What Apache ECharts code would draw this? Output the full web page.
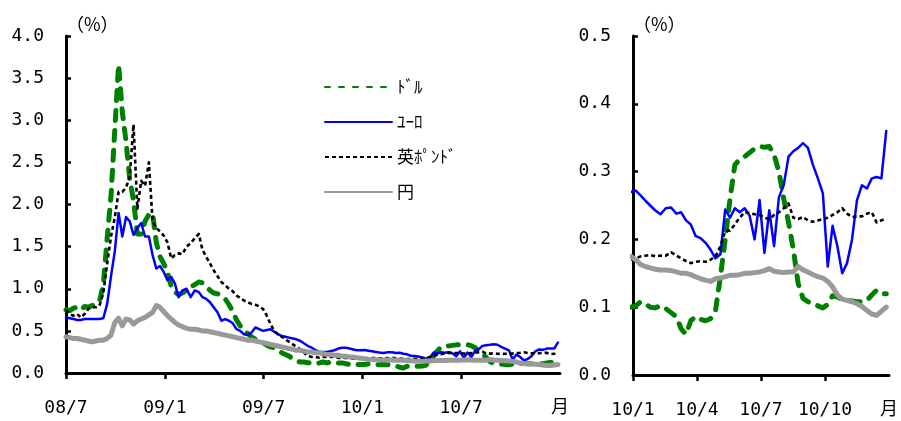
<!DOCTYPE html>
<html>
<head>
<meta charset="utf-8">
<script src="https://cdn.jsdelivr.net/npm/echarts@6/dist/echarts.min.js"></script>
<style>
  html, body { margin: 0; padding: 0; background: #fff; }
  #chart { width: 901px; height: 421px; }
</style>
</head>
<body>
<div id="chart"></div>
<script>
// Weekly observations; week 0 starts on 2008-07-01.
const seriesNames = ['ﾄﾞﾙ', 'ﾕｰﾛ', '英ﾎﾟﾝﾄﾞ', '円'];

// 2008/7 - 2009/12 (weeks 0-78), %
const usd0809 = [
  0.75, 0.74, 0.77, 0.78, 0.75, 0.79, 0.78, 0.80, 0.82, 0.85,
  1.05, 1.60, 2.10, 2.90, 3.66, 3.10, 2.75, 2.30, 2.05, 1.65,
  1.65, 1.80, 1.88, 1.90, 1.55, 1.38, 1.30, 1.20, 1.03, 0.96,
  0.93, 0.95, 0.98, 1.02, 1.05, 1.08, 1.07, 1.03, 0.98, 0.95,
  0.94, 0.92, 0.88, 0.81, 0.73, 0.63, 0.56, 0.50, 0.47, 0.43,
  0.40, 0.38, 0.36, 0.33, 0.31, 0.30, 0.27, 0.24, 0.22, 0.20,
  0.17, 0.14, 0.13, 0.13, 0.12, 0.13, 0.12, 0.12, 0.13, 0.12,
  0.13, 0.12, 0.12, 0.12, 0.11, 0.10, 0.09, 0.10, 0.10
];
const eur0809 = [
  0.66, 0.65, 0.64, 0.63, 0.63, 0.64, 0.64, 0.64, 0.64, 0.64,
  0.65, 0.82, 1.15, 1.45, 1.90, 1.62, 1.85, 1.80, 1.64, 1.72,
  1.78, 1.62, 1.62, 1.40, 1.24, 1.27, 1.20, 1.10, 1.14, 1.06,
  0.90, 0.98, 1.00, 0.90, 0.98, 0.96, 0.90, 0.88, 0.84, 0.78,
  0.72, 0.62, 0.64, 0.62, 0.59, 0.52, 0.50, 0.46, 0.45, 0.48,
  0.54, 0.52, 0.50, 0.51, 0.52, 0.49, 0.46, 0.44, 0.43, 0.42,
  0.41, 0.40, 0.38, 0.35, 0.32, 0.30, 0.27, 0.25, 0.25, 0.25,
  0.26, 0.27, 0.29, 0.30, 0.30, 0.29, 0.28, 0.27, 0.27
];
const gbp0809 = [
  0.75, 0.70, 0.68, 0.70, 0.66, 0.70, 0.76, 0.78, 0.78, 0.80,
  0.95, 1.30, 1.62, 1.85, 2.15, 2.15, 2.20, 2.33, 2.95, 1.95,
  2.28, 2.22, 2.50, 1.80, 1.72, 1.68, 1.63, 1.55, 1.36, 1.40,
  1.42, 1.41, 1.50, 1.54, 1.60, 1.65, 1.46, 1.38, 1.30, 1.22,
  1.15, 1.08, 1.04, 1.00, 0.97, 0.92, 0.89, 0.86, 0.84, 0.82,
  0.81, 0.79, 0.76, 0.68, 0.58, 0.50, 0.46, 0.43, 0.40, 0.37,
  0.34, 0.31, 0.28, 0.24, 0.20, 0.19, 0.19, 0.18, 0.19, 0.19,
  0.19, 0.19, 0.18, 0.18, 0.18, 0.18, 0.17, 0.17, 0.17
];
const jpy0809 = [
  0.43, 0.42, 0.41, 0.41, 0.40, 0.39, 0.38, 0.37, 0.38, 0.39,
  0.39, 0.41, 0.45, 0.60, 0.65, 0.56, 0.64, 0.63, 0.58, 0.62,
  0.64, 0.66, 0.69, 0.72, 0.80, 0.78, 0.73, 0.68, 0.64, 0.60,
  0.57, 0.55, 0.53, 0.52, 0.52, 0.51, 0.50, 0.50, 0.49, 0.48,
  0.47, 0.46, 0.45, 0.44, 0.43, 0.42, 0.41, 0.40, 0.39, 0.39,
  0.38, 0.37, 0.36, 0.35, 0.34, 0.33, 0.32, 0.31, 0.30, 0.29,
  0.28, 0.27, 0.27, 0.26, 0.25, 0.25, 0.24, 0.24, 0.23, 0.22,
  0.22, 0.21, 0.21, 0.20, 0.20, 0.19, 0.19, 0.18, 0.175
];

// 2010 (weeks 79-130), %
const usd10 = [
  0.102, 0.108, 0.105, 0.100, 0.099, 0.102, 0.098, 0.092, 0.086, 0.068,
  0.060, 0.080, 0.086, 0.082, 0.080, 0.083, 0.095, 0.145, 0.200, 0.260,
  0.310, 0.318, 0.322, 0.328, 0.334, 0.337, 0.336, 0.337, 0.325, 0.300,
  0.260, 0.225, 0.185, 0.135, 0.113, 0.108, 0.106, 0.102, 0.099, 0.104,
  0.117, 0.115, 0.112, 0.110, 0.109, 0.108, 0.108, 0.110, 0.118, 0.125,
  0.120, 0.120
];
const eur10 = [
  0.272, 0.265, 0.257, 0.250, 0.243, 0.237, 0.246, 0.247, 0.238, 0.240,
  0.228, 0.222, 0.205, 0.202, 0.195, 0.185, 0.172, 0.178, 0.244, 0.232,
  0.246, 0.240, 0.246, 0.235, 0.200, 0.258, 0.180, 0.243, 0.190, 0.262,
  0.280, 0.322, 0.330, 0.335, 0.342, 0.335, 0.310, 0.290, 0.268, 0.160,
  0.220, 0.190, 0.150, 0.165, 0.200, 0.258, 0.280, 0.275, 0.290, 0.292,
  0.290, 0.360
];
const gbp10 = [
  0.172, 0.175, 0.176, 0.177, 0.175, 0.176, 0.176, 0.181, 0.176, 0.172,
  0.168, 0.165, 0.167, 0.168, 0.167, 0.170, 0.175, 0.190, 0.212, 0.213,
  0.222, 0.232, 0.240, 0.239, 0.237, 0.236, 0.232, 0.230, 0.236, 0.240,
  0.246, 0.253, 0.232, 0.230, 0.233, 0.228, 0.226, 0.228, 0.230, 0.232,
  0.236, 0.240, 0.246, 0.238, 0.233, 0.234, 0.234, 0.238, 0.240, 0.225,
  0.228, 0.231
];
const jpy10 = [
  0.170, 0.163, 0.160, 0.158, 0.156, 0.155, 0.155, 0.154, 0.152, 0.150,
  0.150, 0.148, 0.145, 0.142, 0.140, 0.138, 0.142, 0.143, 0.145, 0.147,
  0.147, 0.148, 0.150, 0.150, 0.151, 0.152, 0.154, 0.157, 0.153, 0.152,
  0.151, 0.152, 0.152, 0.160, 0.155, 0.152, 0.148, 0.145, 0.143, 0.138,
  0.130, 0.118, 0.112, 0.110, 0.108, 0.105, 0.101, 0.095, 0.090, 0.088,
  0.094, 0.100
];

// Axis tick labels
const leftTickLabels = ['08/7', '09/1', '09/7', '10/1', '10/7', '月'];
const rightTickLabels = ['10/1', '10/4', '10/7', '10/10', '月'];
const leftYTicks = [0, 0.5, 1, 1.5, 2, 2.5, 3, 3.5, 4];
const rightYTicks = [0, 0.1, 0.2, 0.3, 0.4, 0.5];

// ---- date helpers ----
const DAY = 86400000;
const T0 = Date.UTC(2008, 6, 1);
function weekDate(i) { return new Date(T0 + i * 7 * DAY); }
// fractional months elapsed since the 1st of (y, m)
function monthsFrom(d, y, m) {
  const Y = d.getUTCFullYear(), M = d.getUTCMonth() + 1, D = d.getUTCDate();
  const dim = new Date(Date.UTC(Y, M, 0)).getUTCDate();
  return (Y - y) * 12 + (M - m) + (D - 1) / dim;
}

const full = [
  usd0809.concat(usd10),
  eur0809.concat(eur10),
  gbp0809.concat(gbp10),
  jpy0809.concat(jpy10)
];
const FIRST_2010_WEEK = 78; // one week before Jan 1, clipped at the axis

const styles = [
  { color: '#008000', width: 5, type: [10, 10], cap: 'round', join: 'round' },
  { color: '#0000FF', width: 2.5, type: 'solid', cap: 'round', join: 'round' },
  { color: '#000000', width: 2.6, type: [4, 3], cap: 'butt', join: 'round' },
  { color: '#999999', width: 5, type: 'solid', cap: 'round', join: 'round' }
];

const series = [];
full.forEach((vals, k) => {
  series.push({
    name: seriesNames[k], type: 'line', xAxisIndex: 0, yAxisIndex: 0,
    showSymbol: false, symbol: 'none', legendIcon: 'none', clip: true, animation: false,
    lineStyle: styles[k], itemStyle: { color: styles[k].color },
    z: 2 + k,
    data: vals.map((v, i) => [monthsFrom(weekDate(i), 2008, 7), v])
  });
});
full.forEach((vals, k) => {
  series.push({
    name: seriesNames[k], type: 'line', xAxisIndex: 1, yAxisIndex: 1,
    showSymbol: false, symbol: 'none', legendIcon: 'none', clip: true, animation: false,
    lineStyle: styles[k], itemStyle: { color: styles[k].color },
    z: 2 + k,
    data: vals.slice(FIRST_2010_WEEK).map((v, j) =>
      [monthsFrom(weekDate(FIRST_2010_WEEK + j), 2010, 1), v])
  });
});

const labelFont = "'DejaVu Sans Mono', 'Noto Sans CJK JP', monospace";
const axisLineStyle = { color: '#000', width: 3 };

function xAxisDef(grid, max, tickVals, labelVals, labels, step) {
  return {
    gridIndex: grid, type: 'value', min: 0, max: max,
    axisLine: { show: true, onZero: false, lineStyle: axisLineStyle },
    axisTick: { show: true, customValues: tickVals, length: 6, lineStyle: { color: '#000', width: 2.5 } },
    axisLabel: {
      customValues: labelVals, margin: 26, color: '#000',
      fontFamily: labelFont, fontSize: 18,
      formatter: v => labels[Math.round(v / step)]
    },
    splitLine: { show: false }
  };
}
function yAxisDef(grid, max, ticks) {
  return {
    gridIndex: grid, type: 'value', min: 0, max: max,
    axisLine: { show: true, lineStyle: axisLineStyle },
    axisTick: { show: true, inside: true, customValues: ticks, length: 5, lineStyle: { color: '#000', width: 2.5 } },
    axisLabel: {
      customValues: ticks, margin: 22, color: '#000',
      fontFamily: labelFont, fontSize: 18,
      formatter: v => v.toFixed(1)
    },
    splitLine: { show: false },
    name: '（%）', nameLocation: 'end', nameGap: 3,
    nameTextStyle: { align: 'left', color: '#000', fontFamily: 'Noto Sans CJK JP', fontSize: 18 }
  };
}

const chart = echarts.init(document.getElementById('chart'), null, { renderer: 'canvas' });
chart.setOption({
  animation: false,
  backgroundColor: '#ffffff',
  grid: [
    { left: 66, top: 36, width: 494, height: 337 },
    { left: 633, top: 36, width: 256, height: 339 }
  ],
  xAxis: [
    xAxisDef(0, 30, [0, 6, 12, 18, 24], [0, 6, 12, 18, 24, 30], leftTickLabels, 6),
    xAxisDef(1, 12, [0, 3, 6, 9], [0, 3, 6, 9, 12], rightTickLabels, 3)
  ],
  yAxis: [
    yAxisDef(0, 4, leftYTicks),
    yAxisDef(1, 0.5, rightYTicks)
  ],
  legend: {
    orient: 'vertical', left: 324, top: 77, padding: 0,
    itemWidth: 67, itemHeight: 14, itemGap: 15,
    selectedMode: false,
    itemStyle: { opacity: 0 },
    textStyle: { color: '#000', fontFamily: 'Noto Sans CJK JP', fontSize: 17, lineHeight: 20 },
    data: [
      { name: seriesNames[0], lineStyle: { type: [5, 9] } },
      { name: seriesNames[1] },
      { name: seriesNames[2] },
      { name: seriesNames[3] }
    ]
  },
  series: series
});
</script>
</body>
</html>
